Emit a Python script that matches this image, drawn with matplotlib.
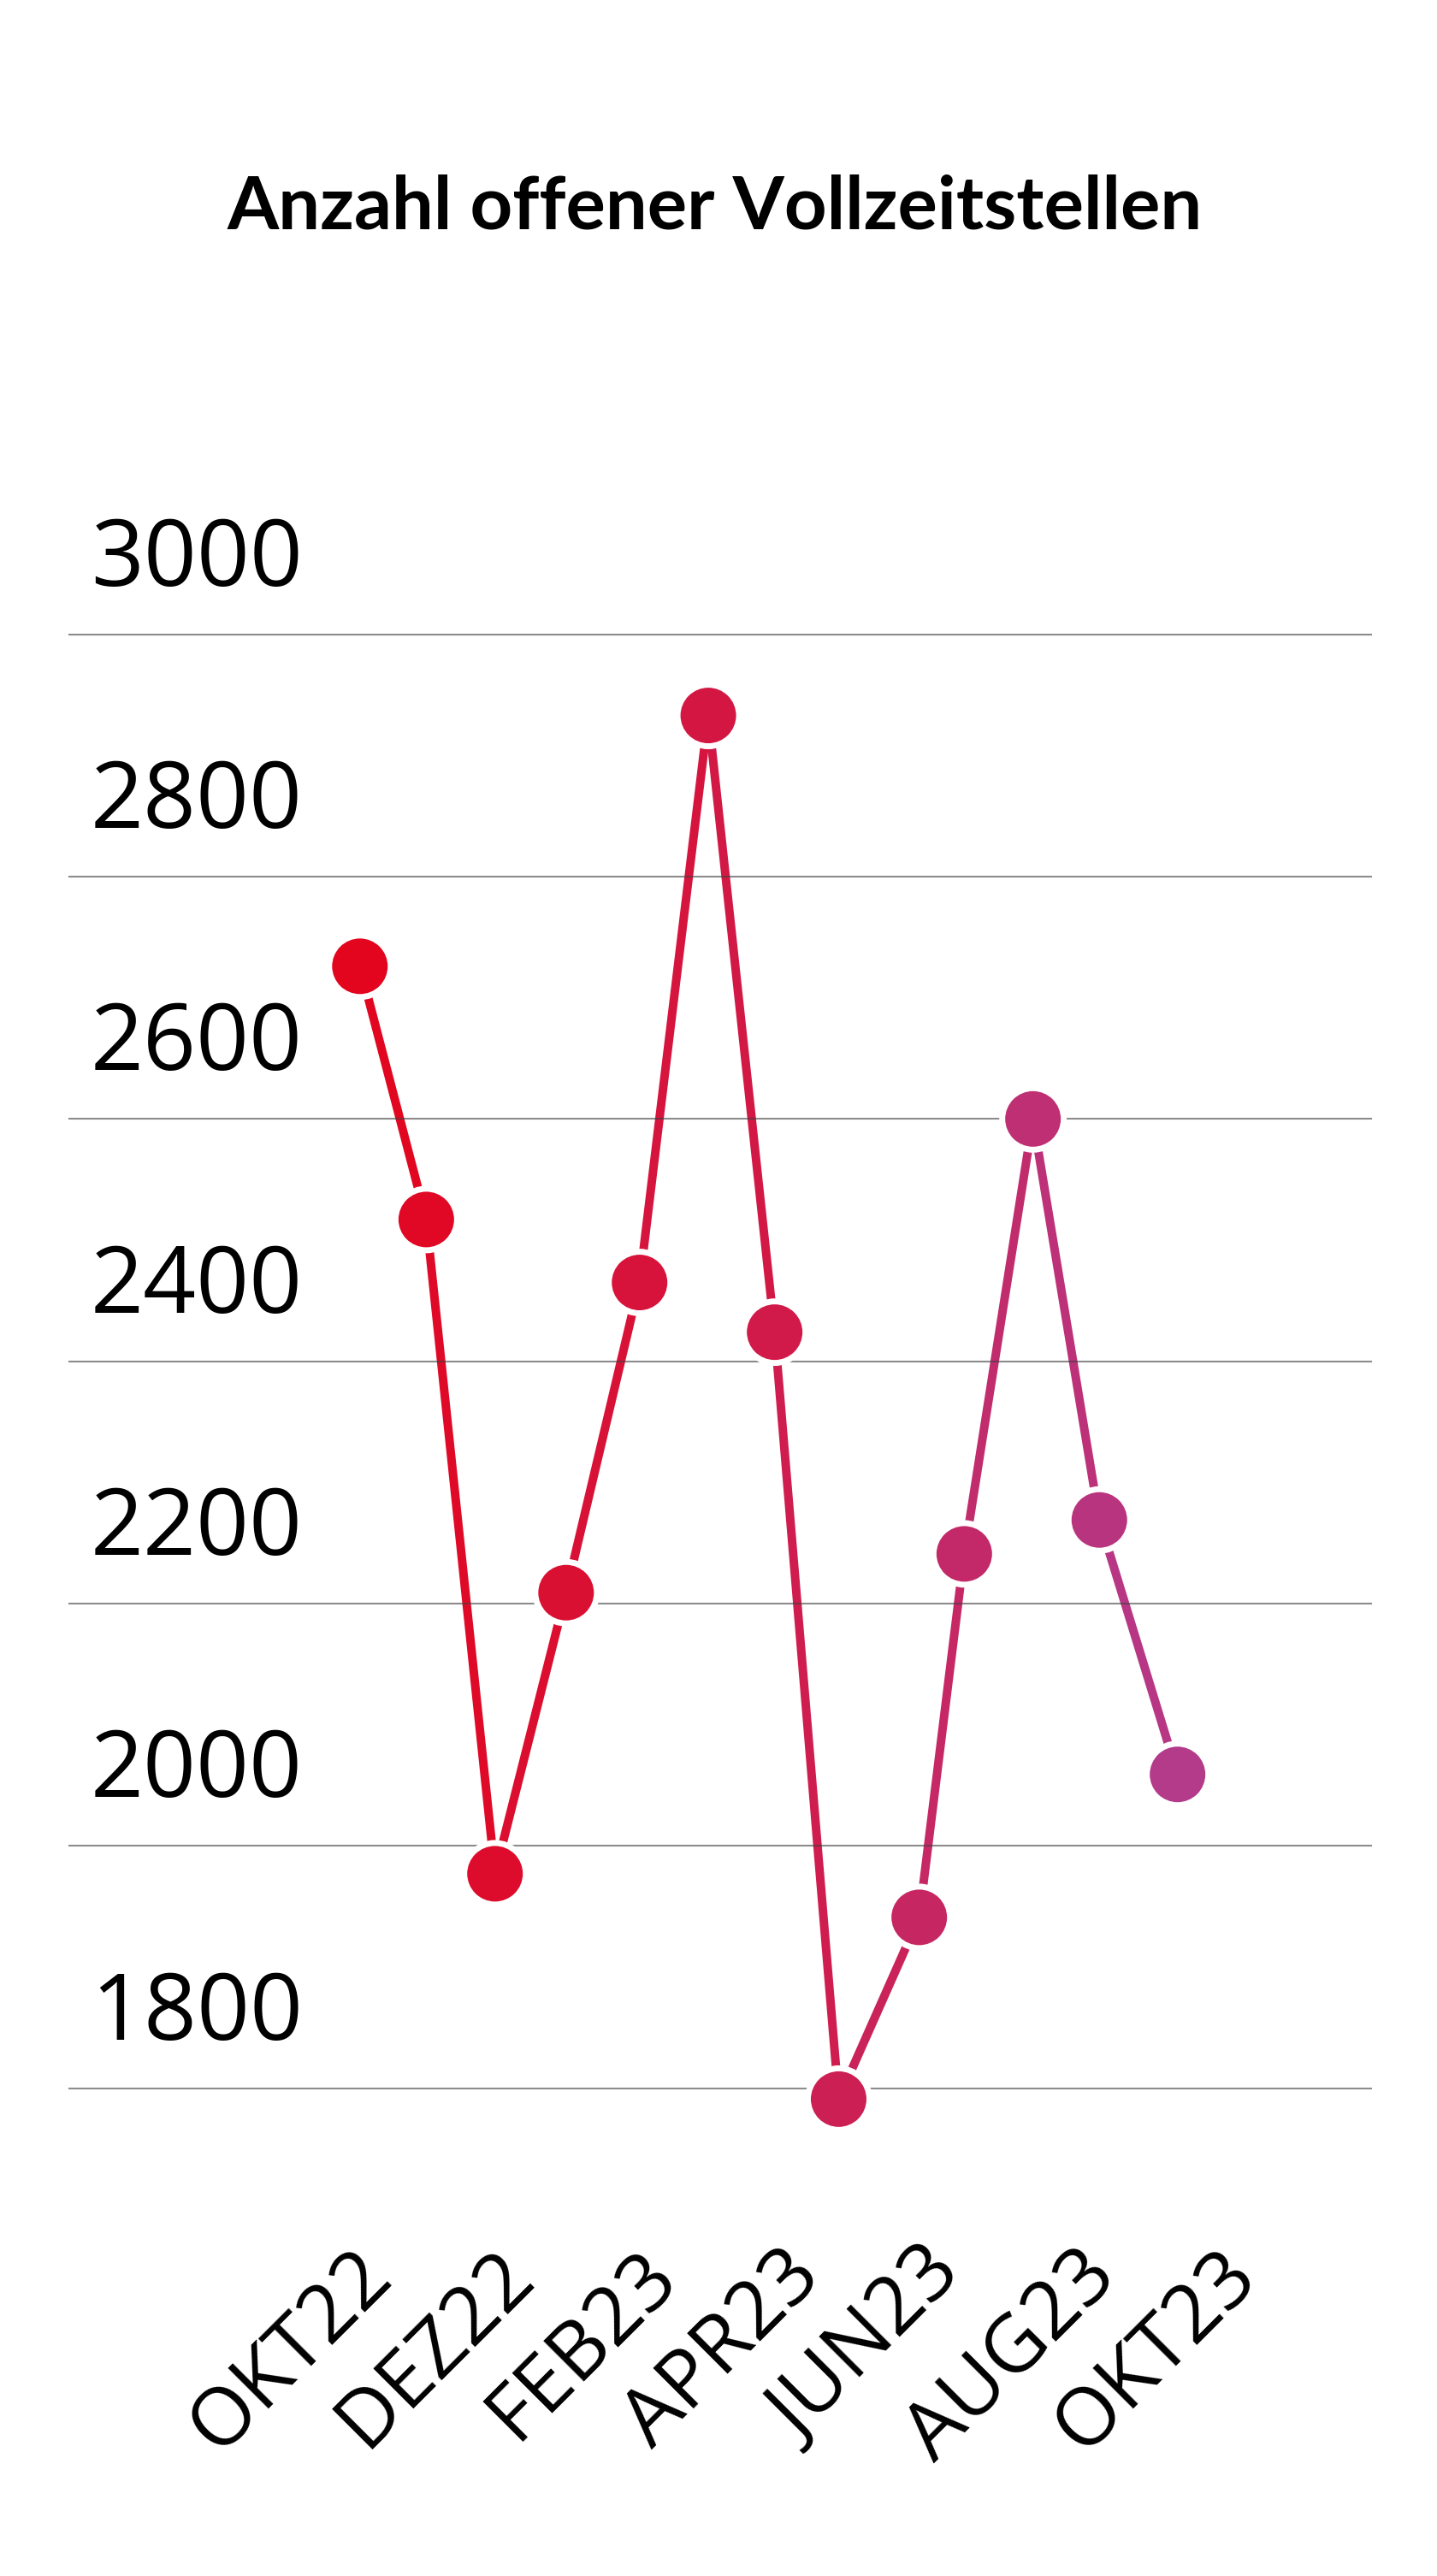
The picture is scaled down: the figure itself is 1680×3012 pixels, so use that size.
#!/usr/bin/env python3
import matplotlib
matplotlib.use("Agg")
import matplotlib.pyplot as plt
import matplotlib.dates as mdates
import matplotlib.transforms as mtransforms
from matplotlib import font_manager
from matplotlib.collections import LineCollection
from matplotlib.colors import LinearSegmentedColormap
import numpy as np

# data (offene Vollzeitstellen per survey date)
dates = ["2022-10-30", "2022-11-27", "2022-12-26", "2023-01-25", "2023-02-25",
         "2023-03-26", "2023-04-23", "2023-05-20", "2023-06-23", "2023-07-12",
         "2023-08-10", "2023-09-07", "2023-10-10"]
values = [2726, 2517, 1977, 2209, 2465, 2933, 2424, 1791, 1941, 2241, 2600, 2269, 2059]

tick_dates = ["2022-10-01", "2022-12-01", "2023-02-01", "2023-04-01",
              "2023-06-01", "2023-08-01", "2023-10-01"]
tick_labels = ["OKT22", "DEZ22", "FEB23", "APR23", "JUN23", "AUG23", "OKT23"]
y_ticks = [1800, 2000, 2200, 2400, 2600, 2800, 3000]

TITLE = "Anzahl offener Vollzeitstellen"


def title_font():
    # the original title uses a narrow bold face; take one if installed
    narrow = {"condensed", "semi-condensed", "extra-condensed"}
    found = set()
    for f in font_manager.fontManager.ttflist:
        w = f.weight if isinstance(f.weight, int) else (700 if f.weight == "bold" else 400)
        if w >= 600 and (f.stretch in narrow or "narrow" in f.name.lower()):
            found.add((f.name, f.stretch))
    for pref in ["Liberation Sans Narrow", "Noto Sans", "Open Sans", "Roboto"]:
        for name, st in found:
            if name == pref:
                return name, st
    return "Lato", "normal"


x = mdates.date2num(np.array(dates, dtype="datetime64[D]"))
y = np.array(values, dtype=float)
xt = mdates.date2num(np.array(tick_dates, dtype="datetime64[D]"))

cmap = LinearSegmentedColormap.from_list(
    "redmag", [(0.0, "#e3051e"), (0.5, "#d11a48"), (1.0, "#b43a8a")])

fig = plt.figure(figsize=(16.8, 30.12), dpi=100)
ax = fig.add_axes([0.0476, 0.14233, 0.9071, 0.65847])

# gradient position along x
frac = (x - x[0]) / (x[-1] - x[0])
seg_frac = (frac[:-1] + frac[1:]) / 2
segs = np.stack([np.column_stack([x[:-1], y[:-1]]),
                 np.column_stack([x[1:], y[1:]])], axis=1)
lc = LineCollection(segs, colors=cmap(seg_frac), linewidths=7.2,
                    capstyle="butt", zorder=1.5)
ax.add_collection(lc)

for v in y_ticks:
    ax.axhline(v, color="#404040", alpha=0.6, lw=1.5, zorder=2)

ax.scatter(x, y, s=2683, c=cmap(frac), edgecolors="white", linewidths=5,
           zorder=3)

ax.set_xlim(mdates.date2num(np.datetime64("2022-06-29")),
            mdates.date2num(np.datetime64("2023-12-31")))
ax.set_ylim(1700, 3100)

for s in ax.spines.values():
    s.set_visible(False)
ax.set_yticks([])
ax.set_xticks(xt)
ax.set_xticklabels(tick_labels, rotation=45, fontsize=68, family="Open Sans")
ax.tick_params(axis="x", length=0, pad=22)

# y labels sit left-aligned above their grid line
trans = mtransforms.blended_transform_factory(fig.transFigure, ax.transData)
trans = mtransforms.offset_copy(trans, fig=fig, y=57, units="dots")
for v in y_ticks:
    ax.text(0.0631, v, str(v), transform=trans, ha="left", va="baseline",
            fontsize=78, family="Open Sans", color="black")

fam, stretch = title_font()
title = fig.text(0.4976, 0.9112, TITLE, ha="center", va="baseline",
                 fontsize=72, fontweight="bold", fontstretch=stretch,
                 family=[fam, "DejaVu Sans"])
# size the title so its width matches the original (~1141 px)
fig.canvas.draw()
w = title.get_window_extent().width
title.set_fontsize(min(72 * 1141 / w, 78))

fig.savefig("out.png", dpi=100, facecolor="white")
